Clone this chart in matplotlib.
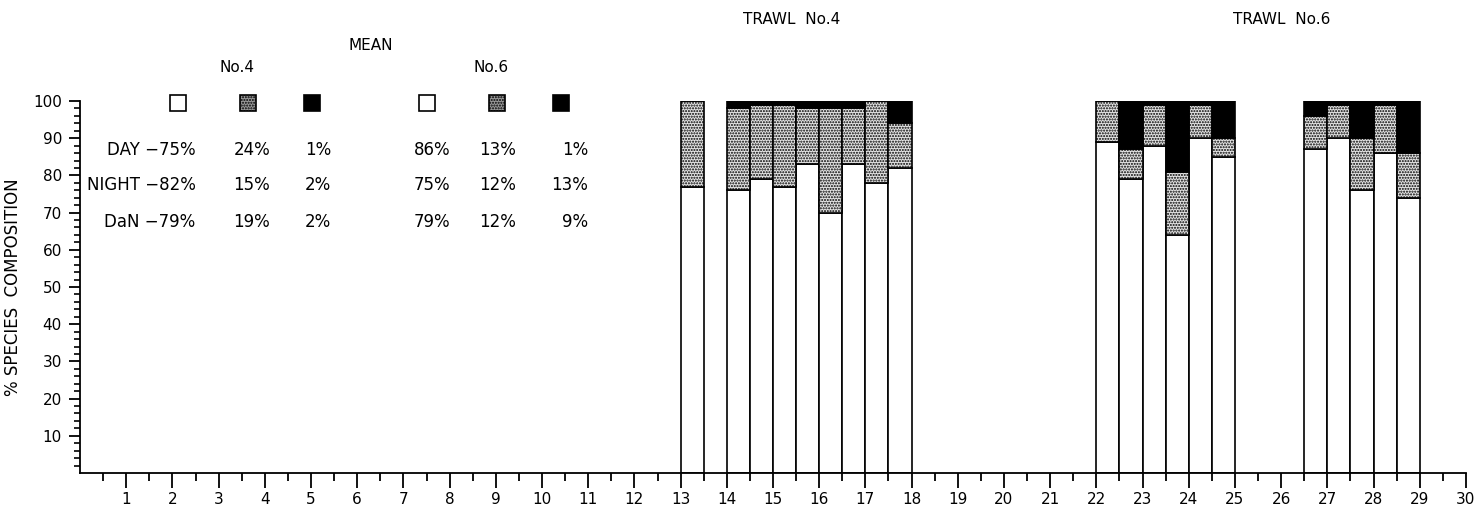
import numpy as np
import matplotlib
matplotlib.use("Agg")
import matplotlib.pyplot as plt
from matplotlib.patches import Rectangle

plt.rcParams['font.family'] = ['DejaVu Sans']
plt.rcParams['hatch.linewidth'] = 1.0

# trawl No.4 bars (left edge of each 0.5 wide bar) and % composition
trawl4_x = [13.0, 14.0, 14.5, 15.0, 15.5, 16.0, 16.5, 17.0, 17.5]
trawl4_white = [77, 76, 79, 77, 83, 70, 83, 78, 82]
trawl4_stipple = [23, 22, 20, 22, 15, 28, 15, 22, 12]
trawl4_black = [0, 2, 1, 1, 2, 2, 2, 0, 6]

# trawl No.6
trawl6_x = [22.0, 22.5, 23.0, 23.5, 24.0, 24.5, 26.5, 27.0, 27.5, 28.0, 28.5]
trawl6_white = [89, 79, 88, 64, 90, 85, 87, 90, 76, 86, 74]
trawl6_stipple = [11, 8, 11, 17, 9, 5, 9, 9, 14, 13, 12]
trawl6_black = [0, 13, 1, 19, 1, 10, 4, 1, 10, 1, 14]

# mean table
row_names = ["DAY", "NIGHT", "DaN"]
mean4 = [["75%", "24%", "1%"], ["82%", "15%", "2%"], ["79%", "19%", "2%"]]
mean6 = [["86%", "13%", "1%"], ["75%", "12%", "13%"], ["79%", "12%", "9%"]]

fig = plt.figure(figsize=(14.79, 5.09), dpi=100)
ax = fig.add_axes([0.0541, 0.0707, 0.9371, 0.7309])

stip = dict(facecolor='#e4e4e4', hatch='......', edgecolor='black', linewidth=1.2)
for xs, w, s, b in [(trawl4_x, trawl4_white, trawl4_stipple, trawl4_black),
                    (trawl6_x, trawl6_white, trawl6_stipple, trawl6_black)]:
    w = np.array(w); s = np.array(s); b = np.array(b)
    ax.bar(xs, w, width=0.5, align='edge', color='white', edgecolor='black', linewidth=1.2)
    ax.bar(xs, s, width=0.5, align='edge', bottom=w, **stip)
    ax.bar(xs, b, width=0.5, align='edge', bottom=w + s, color='black', edgecolor='black', linewidth=1.2)

ax.set_xlim(0, 30)
ax.set_ylim(0, 100)
ax.spines['top'].set_visible(False)
ax.spines['right'].set_visible(False)
ax.spines['left'].set_linewidth(1.3)
ax.spines['bottom'].set_linewidth(1.3)

ax.set_xticks(np.arange(1, 31))
ax.set_xticks(np.arange(0.5, 30, 1), minor=True)
ax.set_yticks(np.arange(10, 101, 10))
ax.set_yticks(np.arange(2, 100, 2), minor=True)
ax.tick_params(axis='x', which='major', direction='out', length=11, width=1.3, labelsize=11, pad=3)
ax.tick_params(axis='x', which='minor', direction='out', length=6, width=1.3)
ax.tick_params(axis='y', which='major', direction='out', length=8, width=1.3, labelsize=11, pad=5)
ax.tick_params(axis='y', which='minor', direction='out', length=4, width=1.2)
ax.set_ylabel("% SPECIES  COMPOSITION", fontsize=12, labelpad=8)

# titles
ax.text(15.4, 122, "TRAWL  No.4", ha='center', va='center', fontsize=11, clip_on=False)
ax.text(26.0, 122, "TRAWL  No.6", ha='center', va='center', fontsize=11, clip_on=False)
ax.text(6.3, 115, "MEAN", ha='center', va='center', fontsize=11, clip_on=False)
ax.text(3.4, 109, "No.4", ha='center', va='center', fontsize=11, clip_on=False)
ax.text(8.9, 109, "No.6", ha='center', va='center', fontsize=11, clip_on=False)

# legend squares
sq_w, sq_h = 0.34, 4.3
for xc, kind in [(2.12, 'w'), (3.64, 's'), (5.02, 'b'), (7.51, 'w'), (9.03, 's'), (10.41, 'b')]:
    if kind == 'w':
        kw = dict(facecolor='white', edgecolor='black', linewidth=1.2)
    elif kind == 's':
        kw = dict(facecolor='#999999', hatch='......', edgecolor='black', linewidth=1.2)
    else:
        kw = dict(facecolor='black', edgecolor='black', linewidth=1.2)
    ax.add_patch(Rectangle((xc - sq_w / 2, 99.5 - sq_h / 2), sq_w, sq_h, clip_on=False, **kw))

row_y = [86.8, 77.4, 67.5]
for yy, name, v4, v6 in zip(row_y, row_names, mean4, mean6):
    ax.text(2.5, yy, name + " \u2212" + v4[0], ha='right', va='center', fontsize=12)
    ax.text(3.72, yy, v4[1], ha='center', va='center', fontsize=12)
    ax.text(5.15, yy, v4[2], ha='center', va='center', fontsize=12)
    ax.text(7.62, yy, v6[0], ha='center', va='center', fontsize=12)
    ax.text(9.03, yy, v6[1], ha='center', va='center', fontsize=12)
    ax.text(11.0, yy, v6[2], ha='right', va='center', fontsize=12)

fig.savefig("out.png", dpi=100)
